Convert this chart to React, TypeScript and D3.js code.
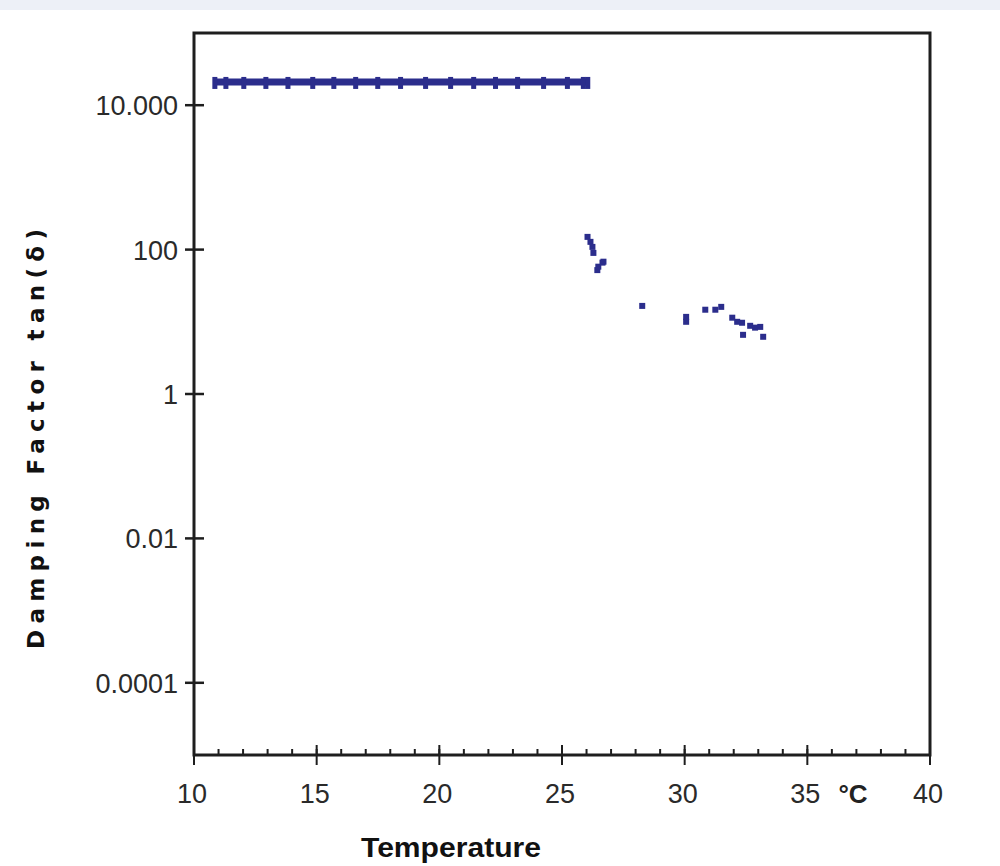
import React from "react";
import * as d3 from "d3";

// ---- data ----
const plateauTemps = [10.85, 11.3, 12.03, 12.93, 13.83, 14.84, 15.7, 16.59, 17.49, 18.42, 19.44, 20.46, 21.4, 22.29, 23.19, 24.25, 25.22, 25.87, 26.05];
const plateauValues = [21000, 21000, 21000, 21000, 21000, 21000, 21000, 21000, 21000, 21000, 21000, 21000, 21000, 21000, 21000, 21000, 21000, 21000, 21000];

const dropTemps = [26.04, 26.16, 26.24, 26.28, 26.44, 26.48, 26.65, 26.69, 28.27, 30.06, 30.06, 30.84, 31.25, 31.49, 31.94, 32.14, 32.34, 32.38, 32.67, 32.87, 33.08, 33.2];
const dropValues = [150, 128, 109, 90, 52, 58, 66, 68, 16.6, 11.7, 10, 14.7, 14.7, 16.1, 11.4, 10, 9.7, 6.6, 8.8, 8.3, 8.5, 6.2];

const xMajorTicks = [10, 15, 20, 25, 30, 35, 40];
const xMinorTicks = d3.range(10, 41, 1);
const yTicks = [10000, 100, 1, 0.01, 0.0001];
const yTickLabels = ["10.000", "100", "1", "0.01", "0.0001"];

const xTitle = "Temperature";
const yTitle = "Damping Factor tan(δ)";
const unitLabel = "°C";

export default function App() {
  const W = 1000, H = 866;
  const left = 194, right = 930, top = 33, bottom = 755;
  const x = d3.scaleLinear().domain([10, 40]).range([left, right]);
  const y = d3.scaleLog().domain([1e-5, 1e5]).range([bottom, top]);
  const navy = "#2b2d8c";
  const axisColor = "#1e1e1e";
  const font = "'Liberation Sans', Arial, sans-serif";

  const plateauLine = d3.line<number>()
    .x((d) => x(plateauTemps[d]))
    .y((d) => y(plateauValues[d]))(d3.range(plateauTemps.length));

  return (
    <svg width={W} height={H} style={{ position: "absolute", left: 0, top: 0 }}>
      <rect x={0} y={0} width={W} height={H} fill="#fff" />
      <rect x={0} y={0} width={W} height={10} fill="#edf0f7" />

      {/* frame */}
      <rect x={left} y={top} width={right - left} height={bottom - top} fill="none" stroke={axisColor} strokeWidth={3} />

      {/* x ticks */}
      {xMinorTicks.map((t) => (
        <line key={"xm" + t} x1={x(t)} x2={x(t)} y1={bottom - 6} y2={bottom} stroke={axisColor} strokeWidth={2} />
      ))}
      {xMajorTicks.map((t) => (
        <g key={"xM" + t}>
          <line x1={x(t)} x2={x(t)} y1={bottom - 10} y2={bottom + 10} stroke={axisColor} strokeWidth={2} />
          <text x={x(t) - 2} y={803} textAnchor="middle" fontFamily={font} fontSize={27} fill="#2a2a2a">{t}</text>
        </g>
      ))}
      <text x={853} y={803} textAnchor="middle" fontFamily={font} fontSize={26} fontWeight="bold" fill="#222">{unitLabel}</text>

      {/* y ticks */}
      {yTicks.map((t, i) => (
        <g key={"y" + t}>
          <line x1={left - 9} x2={left + 10} y1={y(t)} y2={y(t)} stroke={axisColor} strokeWidth={2.5} />
          <text x={178} y={y(t) + 10} textAnchor="end" fontFamily={font} fontSize={27} fill="#2a2a2a">{yTickLabels[i]}</text>
        </g>
      ))}

      {/* plateau series */}
      <path d={plateauLine || ""} fill="none" stroke={navy} strokeWidth={7} />
      {plateauTemps.map((t, i) => (
        <rect key={"p" + i} x={x(t) - 2.5} y={y(plateauValues[i]) - 5} width={5} height={12} fill={navy} />
      ))}

      {/* drop series */}
      {dropTemps.map((t, i) => (
        <rect key={"d" + i} x={x(t) - 3} y={y(dropValues[i]) - 3} width={6} height={6} fill={navy} />
      ))}

      {/* titles */}
      <text x={451} y={857} textAnchor="middle" fontFamily={font} fontSize={27} fontWeight="bold" fill="#111" textLength={180} lengthAdjust="spacingAndGlyphs">{xTitle}</text>
      <text transform={`translate(44, 439) rotate(-90)`} textAnchor="middle" fontFamily="'DejaVu Sans', sans-serif" fontSize={23} fontWeight="bold" fill="#111" textLength={420} lengthAdjust="spacing">{yTitle}</text>
    </svg>
  );
}
